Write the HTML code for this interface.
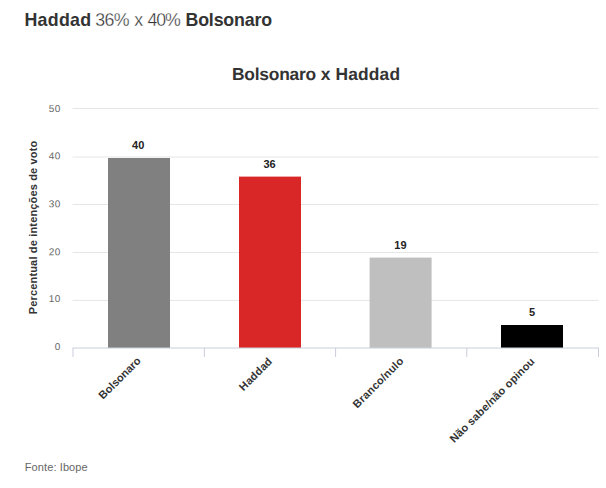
<!DOCTYPE html>
<html lang="pt-BR">
<head>
<meta charset="utf-8">
<title>Haddad 36% x 40% Bolsonaro</title>
<style>
html,body{margin:0;padding:0;background:#fff;}
body{width:606px;height:488px;overflow:hidden;position:relative;font-family:"Liberation Sans",sans-serif;}
svg{position:absolute;left:0;top:0;display:block;}
text{font-family:"Liberation Sans",sans-serif;}
.h text{font-size:17.8px;fill:#333;}
.h text.r{fill:#333;stroke:#fff;stroke-width:0.3px;paint-order:fill stroke;}
.t text{font-size:17.4px;font-weight:bold;fill:#333;}
.yl{font-size:10px;fill:#666;text-anchor:end;letter-spacing:0.35px;}
.dl{font-size:11px;font-weight:bold;fill:#222;text-anchor:middle;}
.xl{font-size:11px;font-weight:bold;fill:#333;text-anchor:end;letter-spacing:0.2px;}
.yt{font-size:11px;font-weight:bold;fill:#333;text-anchor:middle;letter-spacing:0.16px;}
.src{font-size:11px;fill:#666;letter-spacing:0.1px;}
</style>
</head>
<body>
<svg width="606" height="488" viewBox="0 0 606 488">
  <rect x="0" y="0" width="606" height="488" fill="#ffffff"/>

  <!-- heading -->
  <g class="h">
    <text x="24.4" y="26" style="font-weight:bold;letter-spacing:0.32px">Haddad</text>
    <text class="r" x="95.2" y="26" style="letter-spacing:-0.65px">36%</text>
    <text class="r" x="134.3" y="26">x</text>
    <text class="r" x="147.4" y="26" style="letter-spacing:-1.05px">40%</text>
    <text x="185.5" y="26" style="font-weight:bold;letter-spacing:-0.17px">Bolsonaro</text>
  </g>

  <!-- chart title -->
  <g class="t">
    <text x="232" y="80" transform="rotate(0.03 232 80)" style="letter-spacing:-0.22px">Bolsonaro</text>
    <text x="320.7" y="80" transform="rotate(0.03 320.7 80)">x</text>
    <text x="335.5" y="80" transform="rotate(0.03 335.5 80)" style="letter-spacing:0.16px">Haddad</text>
  </g>

  <!-- grid lines -->
  <g stroke="#e6e6e6" stroke-width="1">
    <line x1="72.5" x2="598.5" y1="108.5" y2="108.5"/>
    <line x1="72.5" x2="598.5" y1="157" y2="157"/>
    <line x1="72.5" x2="598.5" y1="204.5" y2="204.5"/>
    <line x1="72.5" x2="598.5" y1="252.5" y2="252.5"/>
    <line x1="72.5" x2="598.5" y1="300.4" y2="300.4"/>
  </g>

  <!-- bars -->
  <g>
    <rect x="108" y="158" width="62" height="190" fill="#808080"/>
    <rect x="239" y="176.6" width="62" height="171.4" fill="#d92626"/>
    <rect x="369.6" y="257.6" width="62" height="90.4" fill="#bfbfbf"/>
    <rect x="501" y="325" width="62" height="23" fill="#000000"/>
  </g>

  <!-- axis line + ticks -->
  <g stroke="#cacedb" stroke-width="1" fill="none">
    <line x1="72.5" x2="599" y1="348" y2="348"/>
    <line x1="73" x2="73" y1="348" y2="357"/>
    <line x1="204.4" x2="204.4" y1="348" y2="357"/>
    <line x1="335.6" x2="335.6" y1="348" y2="357"/>
    <line x1="466.8" x2="466.8" y1="348" y2="357"/>
    <line x1="598.5" x2="598.5" y1="348" y2="357"/>
  </g>

  <!-- y axis labels -->
  <text class="yl" x="60.7" y="112" transform="rotate(0.03 60.7 112)">50</text>
  <text class="yl" x="60.7" y="159.3" transform="rotate(0.03 60.7 159.3)">40</text>
  <text class="yl" x="60.7" y="207.2" transform="rotate(0.03 60.7 207.2)">30</text>
  <text class="yl" x="60.7" y="255.2" transform="rotate(0.03 60.7 255.2)">20</text>
  <text class="yl" x="60.7" y="302" transform="rotate(0.03 60.7 302)">10</text>
  <text class="yl" x="60.7" y="349.9" transform="rotate(0.03 60.7 349.9)">0</text>

  <!-- y axis title -->
  <text class="yt" x="37" y="227.4" transform="rotate(-90 37 227.4)">Percentual de intenções de voto</text>

  <!-- data labels -->
  <text class="dl" x="138.2" y="149">40</text>
  <text class="dl" x="269.6" y="168">36</text>
  <text class="dl" x="400.4" y="249">19</text>
  <text class="dl" x="532" y="316">5</text>

  <!-- x axis labels -->
  <text class="xl" x="141.6" y="361.4" transform="rotate(-45 141.6 361.4)" style="letter-spacing:0">Bolsonaro</text>
  <text class="xl" x="273" y="362" transform="rotate(-45 273 362)">Haddad</text>
  <text class="xl" x="404.3" y="361.7" transform="rotate(-45 404.3 361.7)">Branco/nulo</text>
  <text class="xl" x="535.5" y="362" transform="rotate(-45 535.5 362)">Não sabe/não opinou</text>

  <!-- source -->
  <text class="src" x="24.8" y="471">Fonte: Ibope</text>
</svg>
</body>
</html>
